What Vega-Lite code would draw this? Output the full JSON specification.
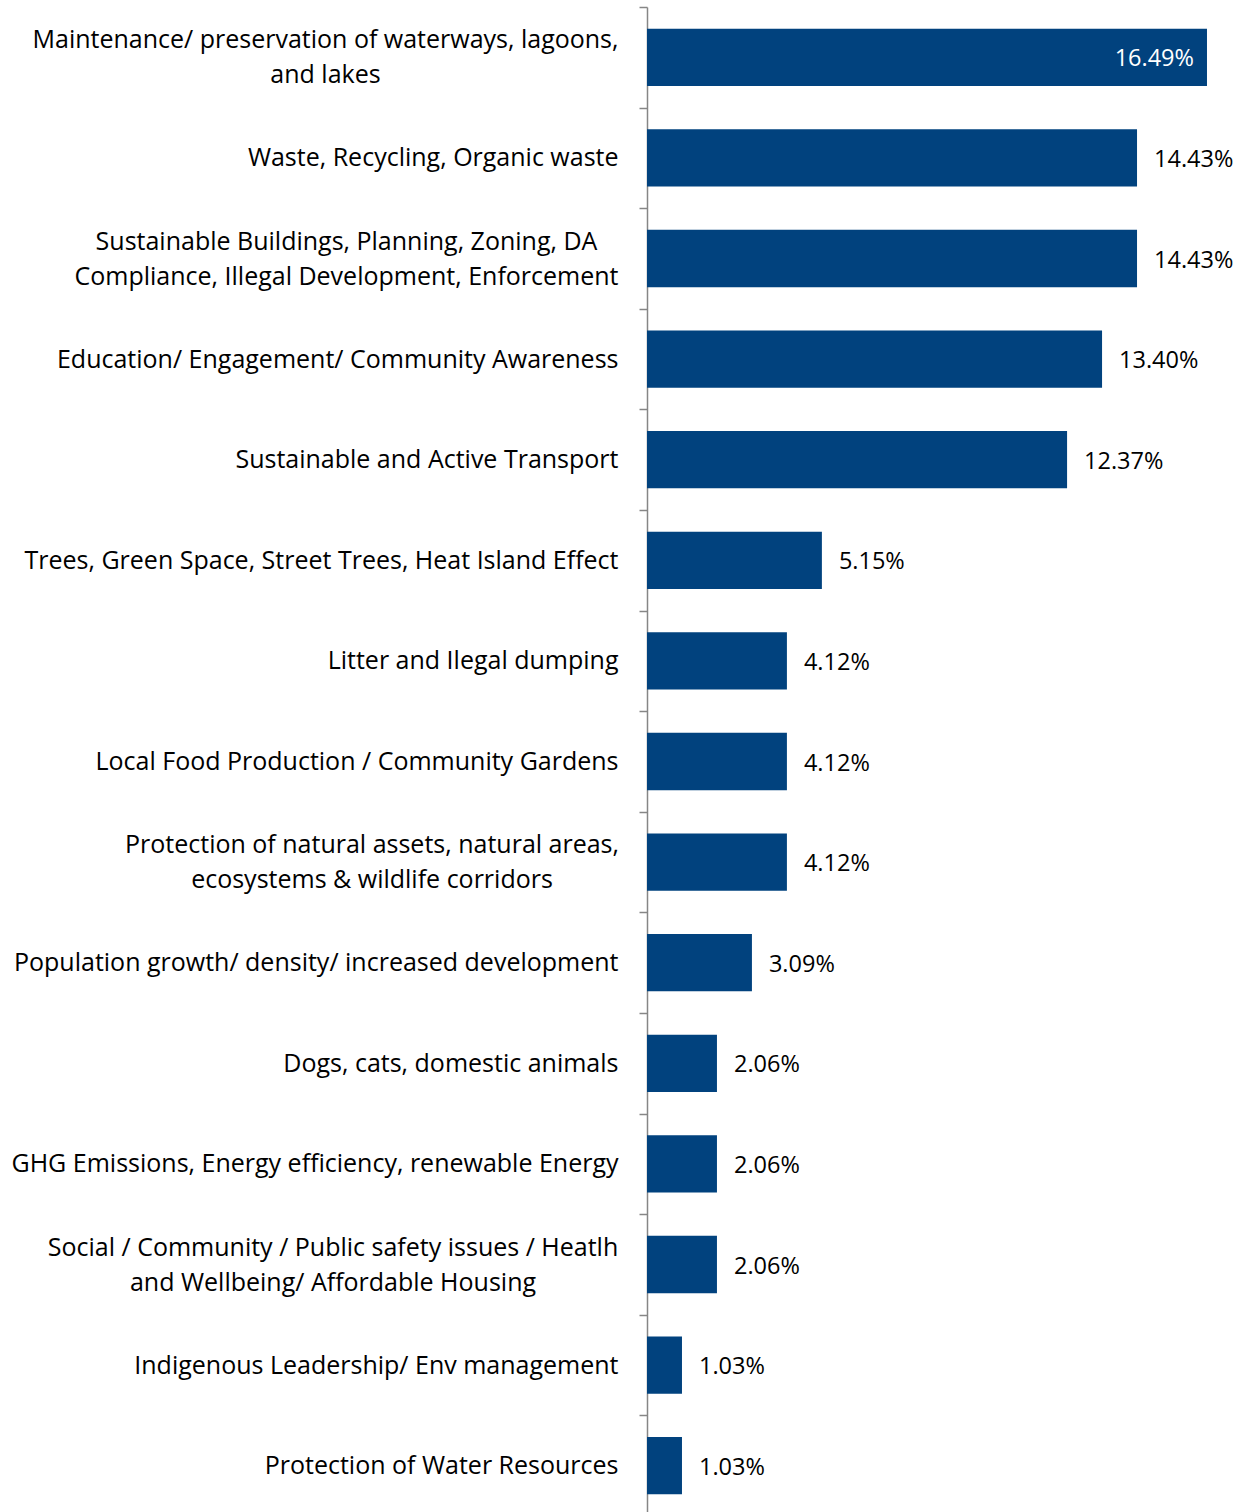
{
  "$schema": "https://vega.github.io/schema/vega-lite/v6.json",
  "autosize": {"type": "none"},
  "width": 597,
  "height": 1505,
  "padding": {"left": 647, "top": 7, "right": 0, "bottom": 0},
  "background": "white",
  "config": {"view": {"stroke": null}, "font": "Open Sans"},
  "data": {"values": [
    {"category": "Maintenance/ preservation of waterways, lagoons,|and lakes", "value": 0.1649},
    {"category": "Waste, Recycling, Organic waste", "value": 0.1443},
    {"category": "Sustainable Buildings, Planning, Zoning, DA|Compliance, Illegal Development, Enforcement", "value": 0.1443},
    {"category": "Education/ Engagement/ Community Awareness", "value": 0.1340},
    {"category": "Sustainable and Active Transport", "value": 0.1237},
    {"category": "Trees, Green Space, Street Trees, Heat Island Effect", "value": 0.0515},
    {"category": "Litter and Ilegal dumping", "value": 0.0412},
    {"category": "Local Food Production / Community Gardens", "value": 0.0412},
    {"category": "Protection of natural assets, natural areas,|ecosystems & wildlife corridors", "value": 0.0412},
    {"category": "Population growth/ density/ increased development", "value": 0.0309},
    {"category": "Dogs, cats, domestic animals", "value": 0.0206},
    {"category": "GHG Emissions, Energy efficiency, renewable Energy", "value": 0.0206},
    {"category": "Social / Community / Public safety issues / Heatlh|and Wellbeing/ Affordable Housing", "value": 0.0206},
    {"category": "Indigenous Leadership/ Env management", "value": 0.0103},
    {"category": "Protection of Water Resources", "value": 0.0103}
  ]},
  "encoding": {
    "y": {
      "field": "category", "type": "nominal", "sort": null,
      "scale": {"paddingInner": 0.43, "paddingOuter": 0.215, "range": [0, 1509]},
      "axis": {
        "title": null,
        "labelExpr": "split(datum.label, '|')",
        "labelFont": "Open Sans",
        "labelFontSize": 25,
        "labelColor": "#000000",
        "labelLineHeight": 35,
        "labelAlign": {"condition": {"test": "indexof(datum.value, '|') >= 0", "value": "center"}, "value": "right"},
        "labelPadding": {"condition": [
          {"test": "indexof(datum.value, 'Maintenance') === 0", "value": 314},
          {"test": "indexof(datum.value, 'Sustainable Buildings') === 0", "value": 293},
          {"test": "indexof(datum.value, 'Protection of natural') === 0", "value": 267.5},
          {"test": "indexof(datum.value, 'Social') === 0", "value": 306.5}
        ], "value": 21},
        "labelOffset": {"condition": {"test": "indexof(datum.value, '|') >= 0", "value": 32.8}, "value": 50.3},
        "tickOffset": -50.3,
        "labelLimit": 0,
        "tickSize": 8,
        "tickColor": "#868686",
        "tickWidth": 1.5,
        "domainColor": "#868686",
        "domainWidth": 1.5,
        "grid": false
      }
    },
    "x": {
      "field": "value", "type": "quantitative",
      "scale": {"domain": [0, 0.1758], "nice": false, "zero": true},
      "axis": null
    }
  },
  "layer": [
    {"mark": {"type": "bar", "color": "#01427E"}},
    {
      "transform": [{"filter": "datum.value > 0.16"}],
      "mark": {"type": "text", "align": "right", "baseline": "middle", "dx": -13, "dy": 2, "fontSize": 23.5, "color": "white", "font": "Open Sans"},
      "encoding": {"text": {"field": "value", "format": ".2%"}}
    },
    {
      "transform": [{"filter": "datum.value <= 0.16"}],
      "mark": {"type": "text", "align": "left", "baseline": "middle", "dx": 17, "dy": 2, "fontSize": 23.5, "color": "#000000", "font": "Open Sans"},
      "encoding": {"text": {"field": "value", "format": ".2%"}}
    }
  ]
}
